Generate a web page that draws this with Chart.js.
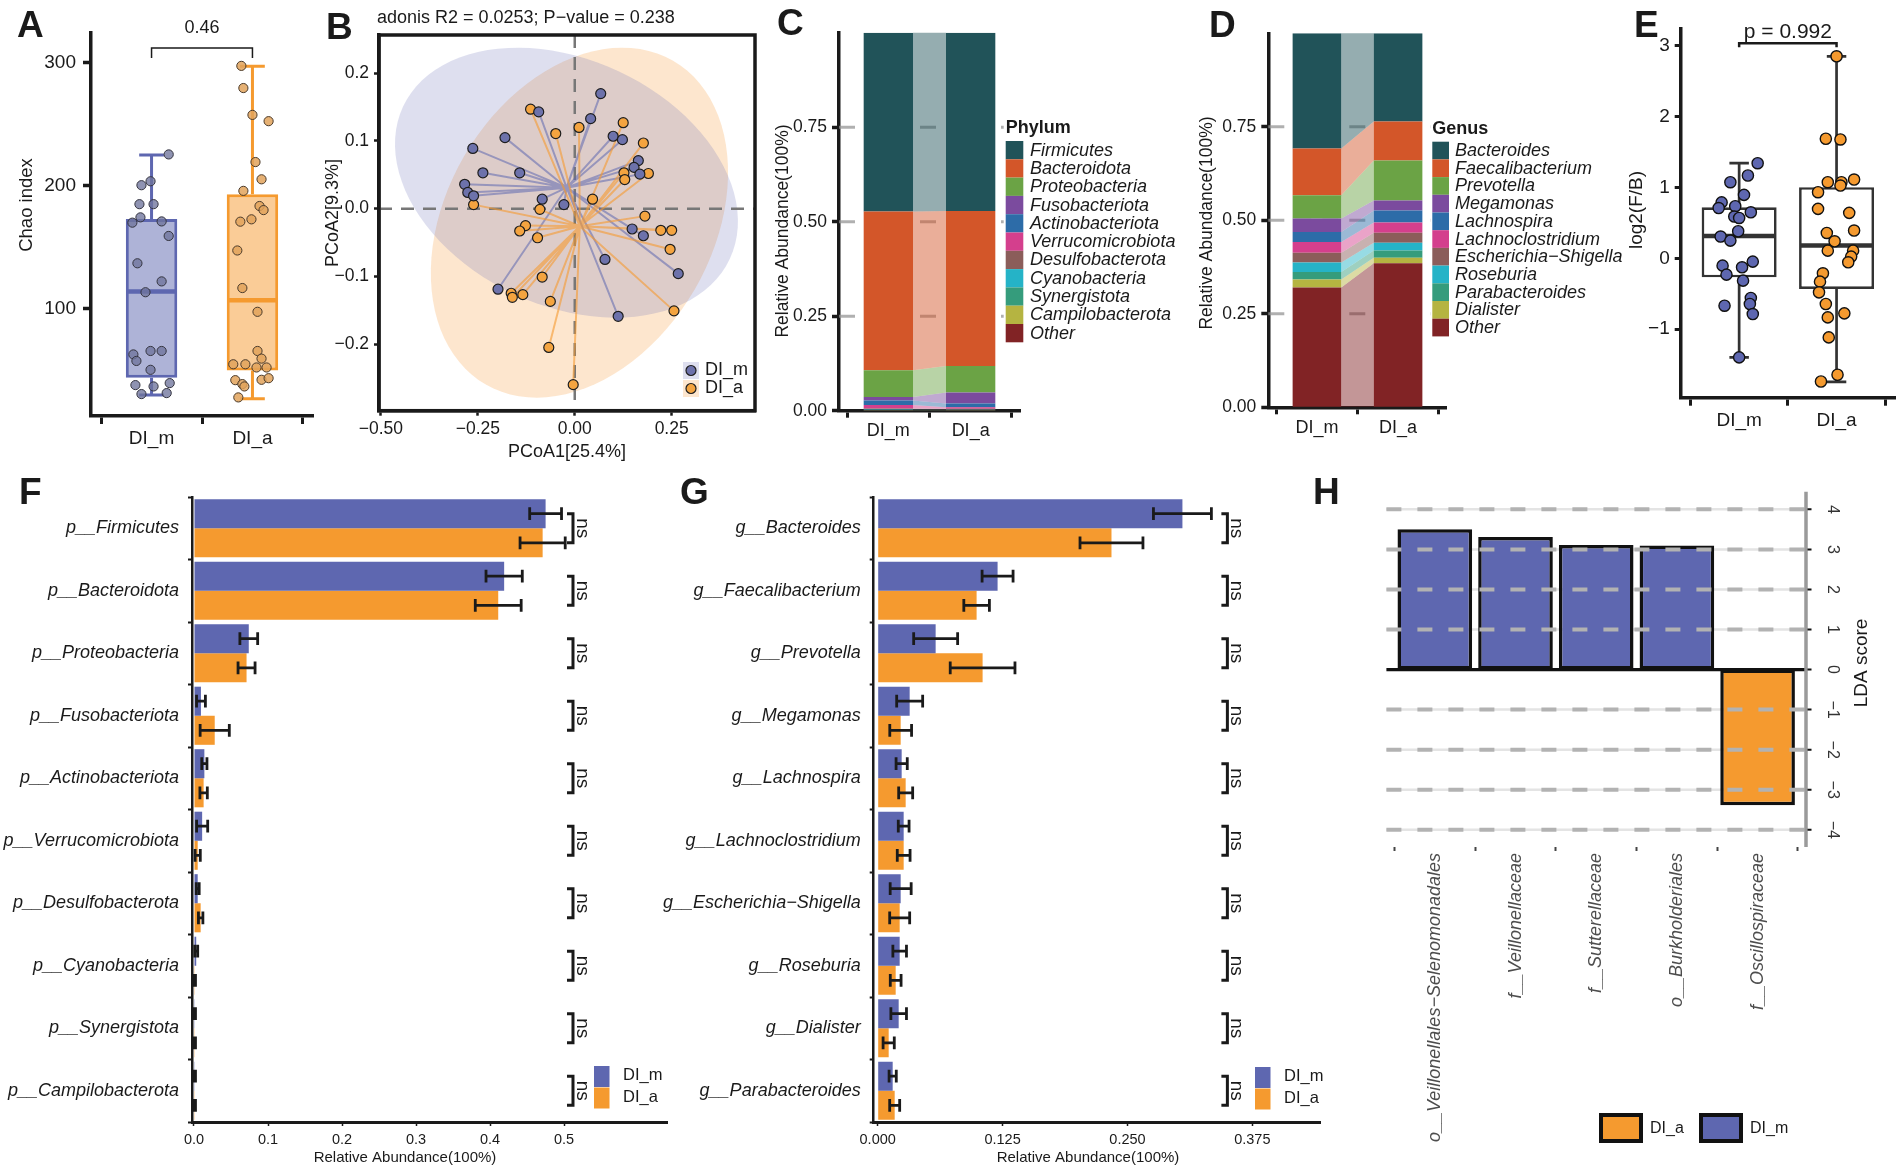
<!DOCTYPE html>
<html>
<head>
<meta charset="utf-8">
<title>Gut microbiota DI_m vs DI_a</title>
<script src="https://cdn.jsdelivr.net/npm/chart.js@4.4.1/dist/chart.umd.min.js"></script>
<style>
  html, body { margin: 0; padding: 0; background: #fff; overflow: hidden; }
  #fig { position: relative; width: 1902px; height: 1173px; overflow: hidden; background: #fff; }
  .panel { position: absolute; }
  .tag { position: absolute; font: bold 37px "Liberation Sans", Arial, sans-serif; line-height: 37px; color: #1a1a1a; }
</style>
</head>
<body>
<div id="fig">
  <div class="panel" style="left:0px;top:0px;width:330px;height:452px"><canvas id="chA"></canvas></div>
  <div class="panel" style="left:320px;top:0px;width:450px;height:470px"><canvas id="chB"></canvas></div>
  <div class="panel" style="left:740px;top:0px;width:450px;height:452px"><canvas id="chC"></canvas></div>
  <div class="panel" style="left:1190px;top:0px;width:440px;height:452px"><canvas id="chD"></canvas></div>
  <div class="panel" style="left:1615px;top:0px;width:287px;height:452px"><canvas id="chE"></canvas></div>
  <div class="panel" style="left:0px;top:470px;width:680px;height:703px"><canvas id="chF"></canvas></div>
  <div class="panel" style="left:650px;top:470px;width:690px;height:703px"><canvas id="chG"></canvas></div>
  <div class="panel" style="left:1300px;top:440px;width:602px;height:733px"><canvas id="chH"></canvas></div>
  <div class="tag" style="left:17px;top:6px">A</div>
  <div class="tag" style="left:326px;top:8px">B</div>
  <div class="tag" style="left:777px;top:4px">C</div>
  <div class="tag" style="left:1209px;top:6px">D</div>
  <div class="tag" style="left:1634px;top:6px">E</div>
  <div class="tag" style="left:19px;top:473px">F</div>
  <div class="tag" style="left:680px;top:473px">G</div>
  <div class="tag" style="left:1313px;top:473px">H</div>
</div>
<script>
// ---------------- data ----------------
const groups = ['DI_m', 'DI_a'];

// A: Chao index boxplots
const chaoLo  = [30, 27];
const chaoQ1  = [44, 50];
const chaoMed = [114, 107];
const chaoQ3  = [173, 193];
const chaoHi  = [225, 297];
const chaoTicks = [100, 200, 300];
const chaoP = '0.46';
const chaoM = [225.4, 200.4, 203.6, 185, 185, 174.3, 170, 171, 159.2, 137, 122.3, 113.5, 63, 57.7, 65.8, 65.8, 50.5, 38.1, 37, 39.7, 30.8, 31.6];
const chaoMJit = [0.17, -0.10, -0.01, -0.12, 0.02, -0.11, -0.19, 0.10, 0.17, -0.14, 0.10, -0.06, -0.18, -0.15, -0.01, 0.10, -0.01, -0.16, 0.02, 0.18, -0.10, 0.15];
const chaoA = [297.3, 279.3, 257.5, 252.4, 219.2, 205.2, 195.8, 183.5, 180.2, 170.8, 172.7, 147.4, 116.9, 97.6, 65.8, 59.6, 55, 55, 52.4, 52.4, 42.1, 38.9, 37, 42.4, 43.7, 28.1];
const chaoAJit = [-0.11, -0.09, 0, 0.16, 0.03, 0.09, -0.09, 0.07, 0.11, -0.12, -0.01, -0.15, -0.10, 0.05, 0.05, 0.09, -0.19, -0.07, 0.04, 0.14, -0.17, -0.10, -0.08, 0.09, 0.16, -0.14];

// B: PCoA
const pcoaTitle = 'adonis R2 = 0.0253; P\u2212value = 0.238';
const pcoaMx = [0.067, -0.093, 0.041, -0.180, -0.263, 0.099, 0.123, -0.237, -0.142, -0.284, -0.276, -0.261, 0.164, 0.153, 0.168, -0.084, -0.028, 0.148, 0.177, 0.078, 0.267, -0.198, 0.112];
const pcoaMy = [0.170, 0.143, 0.133, 0.105, 0.089, 0.107, 0.102, 0.053, 0.053, 0.036, 0.024, 0.019, 0.071, 0.061, 0.051, 0.014, 0.006, -0.030, -0.040, -0.075, -0.096, -0.119, -0.159];
const pcoaAx = [-0.114, 0.011, -0.049, 0.125, 0.177, 0.127, 0.129, 0.190, -0.261, -0.090, 0.046, 0.181, -0.127, -0.142, -0.096, 0.222, 0.250, 0.246, -0.084, -0.164, -0.161, -0.134, -0.063, 0.256, -0.067, -0.004];
const pcoaAy = [0.147, 0.120, 0.111, 0.127, 0.097, 0.053, 0.043, 0.052, 0.006, -0.001, 0.014, -0.011, -0.025, -0.033, -0.043, -0.032, -0.032, -0.060, -0.101, -0.125, -0.131, -0.127, -0.137, -0.151, -0.205, -0.260];
const pcoaCentM = [-0.021, 0.031];
const pcoaCentA = [0.013, -0.026];
// ellipse = centre + u*cos(t) + v*sin(t), in axis units
const pcoaEllM = [-0.0214, 0.0384, 0.4215, -0.1124, -0.1343, -0.1647];
const pcoaEllA = [0.0121, -0.0207, 0.2416, 0.2392, 0.2977, -0.0982];
const pcoaXTicks = [-0.5, -0.25, 0, 0.25];
const pcoaYTicks = [-0.2, -0.1, 0, 0.1, 0.2];

// C: phylum composition
const phyla = ['Firmicutes', 'Bacteroidota', 'Proteobacteria', 'Fusobacteriota', 'Actinobacteriota', 'Verrucomicrobiota', 'Desulfobacterota', 'Cyanobacteria', 'Synergistota', 'Campilobacterota', 'Other'];
const phylumM = [0.473, 0.420, 0.071, 0.009, 0.012, 0.009, 0.003, 0.0015, 0.0005, 0.0005, 0.0005];
const phylumA = [0.472, 0.410, 0.070, 0.029, 0.010, 0.004, 0.0025, 0.001, 0.0005, 0.0005, 0.0005];

// D: genus composition
const genera = ['Bacteroides', 'Faecalibacterium', 'Prevotella', 'Megamonas', 'Lachnospira', 'Lachnoclostridium', 'Escherichia\u2212Shigella', 'Roseburia', 'Parabacteroides', 'Dialister', 'Other'];
const genusM = [0.308, 0.125, 0.062, 0.036, 0.027, 0.029, 0.026, 0.025, 0.020, 0.022, 0.320];
const genusA = [0.236, 0.104, 0.107, 0.027, 0.032, 0.027, 0.027, 0.021, 0.019, 0.015, 0.385];
const relTicks = [0, 0.25, 0.5, 0.75];

// E: log2(F/B)
const fbLo  = [-1.40, -1.745];
const fbQ1  = [-0.269, -0.434];
const fbMed = [0.316, 0.179];
const fbQ3  = [0.722, 1.005];
const fbHi  = [1.344, 2.854];
const fbTicks = [-1, 0, 1, 2, 3];
const fbP = 'p = 0.992';
const fbM = [1.344, 1.17, 1.075, 0.896, 0.79, 0.71, 0.736, 0.65, 0.59, 0.57, 0.382, 0.307, 0.25, -0.047, -0.104, -0.127, -0.231, -0.316, -0.561, -0.646, -0.67, -0.788, -1.40];
const fbMJit = [0.19, 0.09, -0.09, 0.05, -0.18, -0.21, -0.04, 0.12, -0.05, 0, -0.01, -0.19, -0.09, 0.14, -0.17, 0.03, -0.13, 0.04, 0.12, 0.11, -0.15, 0.14, 0];
const fbA = [2.854, 1.689, 1.679, 1.075, 1.075, 1.113, 1.028, 0.934, 0.698, 0.642, 0.358, 0.392, 0.24, 0.108, 0.108, 0.024, -0.057, -0.212, -0.33, -0.481, -0.646, -0.835, -0.778, -1.118, -1.646, -1.741];
const fbAJit = [0, -0.11, 0.04, -0.09, 0.05, 0.18, 0.04, -0.19, -0.19, 0.13, -0.10, 0.18, -0.02, -0.09, 0.17, 0.15, 0.12, -0.14, -0.17, -0.18, -0.11, -0.09, 0.08, -0.08, 0.01, -0.16];

// F: phylum mean abundance +- se
const fTaxa = ['p__Firmicutes', 'p__Bacteroidota', 'p__Proteobacteria', 'p__Fusobacteriota', 'p__Actinobacteriota', 'p__Verrucomicrobiota', 'p__Desulfobacterota', 'p__Cyanobacteria', 'p__Synergistota', 'p__Campilobacterota'];
const fMeanM = [0.475, 0.419, 0.074, 0.0094, 0.014, 0.011, 0.005, 0.003, 0.001, 0.001];
const fErrM  = [0.0215, 0.0245, 0.012, 0.006, 0.0035, 0.0075, 0.002, 0.002, 0.001, 0.001];
const fMeanA = [0.471, 0.411, 0.071, 0.028, 0.013, 0.005, 0.009, 0.001, 0.001, 0.001];
const fErrA  = [0.0305, 0.031, 0.0115, 0.0197, 0.005, 0.0035, 0.003, 0.001, 0.001, 0.001];
const fTicks = [0, 0.1, 0.2, 0.3, 0.4, 0.5];

// G: genus mean abundance +- se
const gTaxa = ['g__Bacteroides', 'g__Faecalibacterium', 'g__Prevotella', 'g__Megamonas', 'g__Lachnospira', 'g__Lachnoclostridium', 'g__Escherichia\u2212Shigella', 'g__Roseburia', 'g__Dialister', 'g__Parabacteroides'];
const gMeanM = [0.305, 0.120, 0.058, 0.032, 0.024, 0.026, 0.023, 0.022, 0.021, 0.015];
const gErrM  = [0.029, 0.0155, 0.022, 0.013, 0.0056, 0.0054, 0.0105, 0.0068, 0.0078, 0.0036];
const gMeanA = [0.234, 0.099, 0.105, 0.023, 0.028, 0.026, 0.022, 0.018, 0.011, 0.017];
const gErrA  = [0.0315, 0.0128, 0.0324, 0.0109, 0.007, 0.0064, 0.010, 0.0054, 0.0056, 0.005];
const gTicks = [0, 0.125, 0.25, 0.375];

// H: LEfSe LDA scores
const ldaTaxa = ['o__Veillonellales\u2212Selenomonadales', 'f__Veillonellaceae', 'f__Sutterellaceae', 'o__Burkholderiales', 'f__Oscillospiraceae'];
const ldaScore = [3.50, 3.31, 3.11, 3.10, -3.39];
const ldaGroup = ['DI_m', 'DI_m', 'DI_m', 'DI_m', 'DI_a'];
const ldaTicks = [-4, -3, -2, -1, 0, 1, 2, 3, 4];

// ---------------- style ----------------
const FONT = '"Liberation Sans", Arial, Helvetica, sans-serif';
const INK = '#1a1a1a';
const BLUE = '#5E67B0';
const ORANGE = '#F59A2F';
const taxaColors = ['#215359', '#D35629', '#6BA345', '#7B4B9E', '#2D6CA8', '#D43F8D', '#8B5D5A', '#25B3C7', '#359C7C', '#B5B441', '#812325'];

Chart.defaults.font.family = FONT;
Chart.defaults.color = INK;
Chart.defaults.animation = false;
Chart.defaults.responsive = true;
Chart.defaults.maintainAspectRatio = false;
Chart.defaults.events = [];
Chart.defaults.plugins.legend.display = false;
Chart.defaults.plugins.tooltip.enabled = false;

// ---------------- helpers ----------------
const at = vals => s => { s.ticks = vals.map(v => ({ value: v })); };
const fix = (w, h) => s => {
  if (w != null) s.width = w;
  if (h != null) s.height = h;
  s.paddingLeft = s.paddingRight = s.paddingTop = s.paddingBottom = 0;
};
const minus = s => String(s).replace(/-/g, '\u2212');
const tickGrid = (len, w) => ({ display: true, drawOnChartArea: false, drawTicks: true, tickLength: len, tickWidth: w, tickColor: INK });
function rgba(hex, a) {
  const n = parseInt(hex.slice(1), 16);
  return `rgba(${n >> 16},${(n >> 8) & 255},${n & 255},${a})`;
}
// page coordinates -> canvas coordinates
function pg(chart, px, py) {
  const b = chart.canvas.parentNode;
  return [px - b.offsetLeft, py - b.offsetTop];
}
function put(chart, s, px, py, o = {}) {
  const ctx = chart.ctx;
  const [x, y] = pg(chart, px, py);
  ctx.save();
  ctx.translate(x, y);
  if (o.rot) ctx.rotate(o.rot * Math.PI / 180);
  ctx.font = `${o.style || 'normal'} ${o.weight || 'normal'} ${o.size || 18}px ${FONT}`;
  ctx.fillStyle = o.color || INK;
  ctx.textAlign = o.align || 'center';
  ctx.textBaseline = 'middle';
  ctx.fillText(s, 0, 0);
  ctx.restore();
}
function rectAt(chart, px, py, w, h, fill, stroke, lw) {
  const ctx = chart.ctx;
  const [x, y] = pg(chart, px, py);
  ctx.save();
  ctx.fillStyle = fill;
  ctx.fillRect(x, y, w, h);
  if (stroke) { ctx.strokeStyle = stroke; ctx.lineWidth = lw; ctx.strokeRect(x, y, w, h); }
  ctx.restore();
}

// whiskers + median for a floating-bar box (dataset 0)
function whiskers(lo, med, hi, q1, q3, colors, o) {
  return {
    id: 'whiskers',
    afterDatasetDraw(chart, args) {
      if (args.index !== 0) return;
      const { ctx, scales: { x, y } } = chart;
      const bars = chart.getDatasetMeta(0).data;
      ctx.save();
      lo.forEach((l, i) => {
        const cx = x.getPixelForValue(i + 1);
        const cap = x.getPixelForValue(1 + o.cap / 2) - x.getPixelForValue(1);
        const half = bars[i].width / 2 - o.lw / 2;
        ctx.strokeStyle = colors[i];
        ctx.lineWidth = o.lw;
        ctx.beginPath();
        ctx.moveTo(cx, y.getPixelForValue(hi[i])); ctx.lineTo(cx, y.getPixelForValue(q3[i]));
        ctx.moveTo(cx, y.getPixelForValue(q1[i])); ctx.lineTo(cx, y.getPixelForValue(l));
        ctx.moveTo(cx - cap, y.getPixelForValue(hi[i])); ctx.lineTo(cx + cap, y.getPixelForValue(hi[i]));
        ctx.moveTo(cx - cap, y.getPixelForValue(l)); ctx.lineTo(cx + cap, y.getPixelForValue(l));
        ctx.stroke();
        ctx.lineWidth = o.medLw;
        ctx.beginPath();
        ctx.moveTo(cx - half, y.getPixelForValue(med[i])); ctx.lineTo(cx + half, y.getPixelForValue(med[i]));
        ctx.stroke();
      });
      ctx.restore();
    }
  };
}
// significance bracket between the two groups
function bracket(chart, yTop, drop, lw, text, textY, size) {
  const { ctx, scales: { x } } = chart;
  const x1 = x.getPixelForValue(1), x2 = x.getPixelForValue(2);
  const [, yb] = pg(chart, 0, yTop);
  ctx.save();
  ctx.strokeStyle = INK; ctx.lineWidth = lw;
  ctx.beginPath();
  ctx.moveTo(x1, yb + drop); ctx.lineTo(x1, yb); ctx.lineTo(x2, yb); ctx.lineTo(x2, yb + drop);
  ctx.stroke();
  ctx.restore();
  const b = chart.canvas.parentNode;
  put(chart, text, (x1 + x2) / 2 + b.offsetLeft, textY, { size });
}

// ---------------- A ----------------
new Chart(document.getElementById('chA'), {
  type: 'bar',
  data: {
    datasets: [
      { data: groups.map((g, i) => ({ x: i + 1, y: [chaoQ1[i], chaoQ3[i]] })),
        backgroundColor: [rgba(BLUE, 0.5), rgba(ORANGE, 0.5)], borderColor: [BLUE, ORANGE],
        borderWidth: 3, borderSkipped: false, barPercentage: 0.51, categoryPercentage: 1, grouped: false, order: 3 },
      { type: 'scatter', data: chaoM.map((v, i) => ({ x: 1 + chaoMJit[i], y: v })),
        pointRadius: 4.6, backgroundColor: 'rgba(112,116,156,0.78)', borderColor: '#34343f', borderWidth: 1, order: 1 },
      { type: 'scatter', data: chaoA.map((v, i) => ({ x: 2 + chaoAJit[i], y: v })),
        pointRadius: 4.6, backgroundColor: 'rgba(226,163,92,0.85)', borderColor: '#4a3a2a', borderWidth: 1, order: 1 }
    ]
  },
  options: {
    layout: { padding: { left: 0, top: 33, right: 17, bottom: 0 } },
    scales: {
      x: { type: 'linear', min: 0.4, max: 2.6, offset: false, afterBuildTicks: at([1, 2]), afterFit: fix(null, 36),
           ticks: { callback: v => groups[v - 1], font: { size: 19 }, color: INK, padding: 3 },
           grid: tickGrid(8, 3), border: { color: INK, width: 3.5 } },
      y: { min: 13, max: 324, afterBuildTicks: at(chaoTicks), afterFit: fix(91, null),
           ticks: { font: { size: 19 }, color: INK, padding: 7 },
           grid: tickGrid(8, 3.5), border: { color: INK, width: 3.5 } }
    }
  },
  plugins: [
    whiskers(chaoLo, chaoMed, chaoHi, chaoQ1, chaoQ3, [BLUE, ORANGE], { cap: 0.245, lw: 3, medLw: 4.5 }),
    { id: 'annA', afterDraw(chart) {
        bracket(chart, 48, 10, 1.5, chaoP, 28, 18);
        put(chart, 'Chao index', 27, 205, { rot: -90, size: 18.5 });
    } }
  ]
});

// ---------------- B ----------------
new Chart(document.getElementById('chB'), {
  type: 'scatter',
  data: {
    datasets: [
      { data: pcoaMx.map((v, i) => ({ x: v, y: pcoaMy[i] })), pointRadius: 5, backgroundColor: '#6D72AB', borderColor: '#1e1e1e', borderWidth: 1.2 },
      { data: pcoaAx.map((v, i) => ({ x: v, y: pcoaAy[i] })), pointRadius: 5, backgroundColor: '#F4A440', borderColor: '#1e1e1e', borderWidth: 1.2 }
    ]
  },
  options: {
    layout: { padding: { left: 0, top: 35, right: 15, bottom: 0 } },
    scales: {
      x: { type: 'linear', min: -0.505, max: 0.465, afterBuildTicks: at(pcoaXTicks), afterFit: fix(null, 59.3),
           ticks: { callback: v => minus(v.toFixed(2)), font: { size: 17.5 }, color: INK, padding: 3 },
           grid: tickGrid(5, 2.5), border: { color: INK, width: 3.5 } },
      y: { min: -0.2985, max: 0.2566, afterBuildTicks: at(pcoaYTicks), afterFit: fix(59, null),
           ticks: { callback: v => minus(v.toFixed(1)), font: { size: 17.5 }, color: INK, padding: 5 },
           grid: tickGrid(5, 2.5), border: { color: INK, width: 3.5 } }
    }
  },
  plugins: [{
    id: 'pcoa',
    beforeDatasetsDraw(chart) {
      const { ctx, chartArea: a, scales: { x, y } } = chart;
      ctx.save();
      ctx.beginPath(); ctx.rect(a.left, a.top, a.width, a.height); ctx.clip();
      [[pcoaEllA, rgba('#F6A24A', 0.27)], [pcoaEllM, rgba('#6A6FB5', 0.22)]].forEach(([e, fill]) => {
        ctx.beginPath();
        for (let k = 0; k <= 96; k++) {
          const t = k / 96 * 2 * Math.PI;
          const px = x.getPixelForValue(e[0] + e[2] * Math.cos(t) + e[4] * Math.sin(t));
          const py = y.getPixelForValue(e[1] + e[3] * Math.cos(t) + e[5] * Math.sin(t));
          if (k) ctx.lineTo(px, py); else ctx.moveTo(px, py);
        }
        ctx.closePath();
        ctx.fillStyle = fill;
        ctx.fill();
      });
      ctx.strokeStyle = '#777'; ctx.lineWidth = 2.5; ctx.setLineDash([13, 9]);
      ctx.beginPath();
      ctx.moveTo(a.left, y.getPixelForValue(0)); ctx.lineTo(a.right, y.getPixelForValue(0));
      ctx.moveTo(x.getPixelForValue(0), a.top); ctx.lineTo(x.getPixelForValue(0), a.bottom);
      ctx.stroke();
      ctx.setLineDash([]);
      ctx.lineWidth = 2;
      [[pcoaMx, pcoaMy, pcoaCentM, rgba(BLUE, 0.55)], [pcoaAx, pcoaAy, pcoaCentA, rgba(ORANGE, 0.6)]].forEach(([xs, ys, c, col]) => {
        ctx.strokeStyle = col;
        ctx.beginPath();
        xs.forEach((v, i) => {
          ctx.moveTo(x.getPixelForValue(c[0]), y.getPixelForValue(c[1]));
          ctx.lineTo(x.getPixelForValue(v), y.getPixelForValue(ys[i]));
        });
        ctx.stroke();
      });
      ctx.restore();
    },
    afterDraw(chart) {
      const { ctx, chartArea: a } = chart;
      ctx.save();
      ctx.strokeStyle = INK; ctx.lineWidth = 3.5;
      ctx.strokeRect(a.left, a.top, a.width, a.height);
      ctx.restore();
      put(chart, pcoaTitle, 377, 18, { size: 18, align: 'left' });
      put(chart, 'PCoA2[9.3%]', 333, 213, { rot: -90, size: 18 });
      put(chart, 'PCoA1[25.4%]', 567, 452, { size: 18 });
      // legend
      rectAt(chart, 683, 362, 16, 17, rgba('#6A6FB5', 0.22));
      rectAt(chart, 683, 380, 16, 17, rgba('#F6A24A', 0.27));
      [['#6D72AB', 370.5, groups[0]], ['#F4A440', 388.5, groups[1]]].forEach(([c, yy, g]) => {
        const [cx, cy] = pg(chart, 691, yy);
        ctx.save();
        ctx.beginPath(); ctx.arc(cx, cy, 5, 0, 2 * Math.PI);
        ctx.fillStyle = c; ctx.fill(); ctx.lineWidth = 1.2; ctx.strokeStyle = '#1e1e1e'; ctx.stroke();
        ctx.restore();
        put(chart, g, 705, yy, { size: 18, align: 'left' });
      });
    }
  }]
});

// ---------------- C / D ----------------
function composition(id, names, valsM, valsA, o) {
  return new Chart(document.getElementById(id), {
    type: 'bar',
    data: {
      datasets: names.map((n, k) => ({
        label: n, data: [{ x: 1, y: valsM[k] }, { x: 2, y: valsA[k] }],
        backgroundColor: taxaColors[k], borderWidth: 0, barPercentage: 0.6, categoryPercentage: 1
      })).reverse()
    },
    options: {
      layout: { padding: { left: 0, top: o.top, right: o.right, bottom: 0 } },
      scales: {
        x: { type: 'linear', stacked: true, min: 0.4, max: 2.6, offset: false, afterBuildTicks: at([1, 2]), afterFit: fix(null, o.xh),
             ticks: { callback: v => groups[v - 1], font: { size: 18 }, color: INK, padding: 3 },
             grid: tickGrid(7, 3), border: { color: INK, width: 3.5 } },
        y: { stacked: true, min: 0, max: 1, afterBuildTicks: at(relTicks), afterFit: fix(o.yw, null),
             ticks: { callback: v => v.toFixed(2), font: { size: 17.5 }, color: INK, padding: 5 },
             grid: tickGrid(7, 3.5), border: { color: INK, width: 3.5 } }
      }
    },
    plugins: [{
      id: 'flow',
      beforeDatasetsDraw(chart) {
        const { ctx, chartArea: a, scales: { y } } = chart;
        ctx.save();
        ctx.strokeStyle = 'rgba(150,150,150,0.75)'; ctx.lineWidth = 3; ctx.setLineDash([16, 11]);
        ctx.beginPath();
        relTicks.filter(v => v > 0).forEach(v => { ctx.moveTo(a.left, y.getPixelForValue(v)); ctx.lineTo(a.right, y.getPixelForValue(v)); });
        ctx.stroke();
        ctx.setLineDash([]);
        chart.data.datasets.forEach((ds, d) => {
          const [b1, b2] = chart.getDatasetMeta(d).data.map(el => el.getProps(['x', 'y', 'base', 'width'], true));
          ctx.beginPath();
          ctx.moveTo(b1.x + b1.width / 2, b1.y);
          ctx.lineTo(b2.x - b2.width / 2, b2.y);
          ctx.lineTo(b2.x - b2.width / 2, b2.base);
          ctx.lineTo(b1.x + b1.width / 2, b1.base);
          ctx.closePath();
          ctx.fillStyle = rgba(ds.backgroundColor, 0.48);
          ctx.fill();
        });
        ctx.restore();
      },
      afterDraw(chart) {
        const L = o.legend;
        rectAt(chart, L.x - 2, L.top - 24, 190, names.length * L.step + 30, '#fff');
        put(chart, o.title, L.x, L.top - 12.5, { size: 18, weight: 'bold', align: 'left' });
        names.forEach((n, k) => {
          rectAt(chart, L.x, L.top + k * L.step, L.w, L.step, taxaColors[k]);
          put(chart, n, L.tx, L.top + k * L.step + L.step / 2 + 0.5, { size: 18, style: 'italic', align: 'left' });
        });
        put(chart, 'Relative Abundance(100%)', o.ytx, o.yty, { rot: -90, size: 17.5 });
      }
    }]
  });
}
composition('chC', phyla, phylumM, phylumA, {
  top: 32.7, right: 170, xh: 41.3, yw: 99, title: 'Phylum', ytx: 783, yty: 231,
  legend: { x: 1005.7, top: 141, step: 18.3, w: 17.6, tx: 1030 }
});
composition('chD', genera, genusM, genusA, {
  top: 33.3, right: 183.3, xh: 44.7, yw: 78.3, title: 'Genus', ytx: 1206.7, yty: 223,
  legend: { x: 1432.3, top: 141.7, step: 17.7, w: 16.7, tx: 1455 }
});

// ---------------- E ----------------
new Chart(document.getElementById('chE'), {
  type: 'bar',
  data: {
    datasets: [
      { data: groups.map((g, i) => ({ x: i + 1, y: [fbQ1[i], fbQ3[i]] })),
        backgroundColor: '#fff', borderColor: '#333', borderWidth: 2.7, borderSkipped: false,
        barPercentage: 0.77, categoryPercentage: 1, grouped: false, order: 3 },
      { type: 'scatter', data: fbM.map((v, i) => ({ x: 1 + fbMJit[i], y: v })),
        pointRadius: 5.6, backgroundColor: BLUE, borderColor: '#111', borderWidth: 1.4, order: 1 },
      { type: 'scatter', data: fbA.map((v, i) => ({ x: 2 + fbAJit[i], y: v })),
        pointRadius: 5.6, backgroundColor: ORANGE, borderColor: '#111', borderWidth: 1.4, order: 1 }
    ]
  },
  options: {
    layout: { padding: { left: 0, top: 28.3, right: 7, bottom: 0 } },
    scales: {
      x: { type: 'linear', min: 0.4, max: 2.6, offset: false, afterBuildTicks: at([1, 2]), afterFit: fix(null, 54.3),
           ticks: { callback: v => groups[v - 1], font: { size: 19 }, color: INK, padding: 4 },
           grid: tickGrid(8, 3), border: { color: INK, width: 3.5 } },
      y: { min: -1.97, max: 3.25, afterBuildTicks: at(fbTicks), afterFit: fix(65.7, null),
           ticks: { callback: v => minus(v), font: { size: 19 }, color: INK, padding: 5 },
           grid: tickGrid(6, 3), border: { color: INK, width: 3.5 } }
    }
  },
  plugins: [
    whiskers(fbLo, fbMed, fbHi, fbQ1, fbQ3, ['#333', '#333'], { cap: 0.2, lw: 2.7, medLw: 4.5 }),
    { id: 'annE', afterDraw(chart) {
        bracket(chart, 43.3, 4, 2.5, fbP, 32, 21);
        put(chart, 'log2(F/B)', 1637, 210, { rot: -90, size: 19 });
    } }
  ]
});

// ---------------- F / G ----------------
function abundance(id, taxa, meanM, errM, meanA, errA, o) {
  return new Chart(document.getElementById(id), {
    type: 'bar',
    data: {
      labels: taxa,
      datasets: [
        { label: groups[0], data: meanM, backgroundColor: BLUE, categoryPercentage: 0.93, barPercentage: 1 },
        { label: groups[1], data: meanA, backgroundColor: ORANGE, categoryPercentage: 0.93, barPercentage: 1 }
      ]
    },
    options: {
      indexAxis: 'y',
      layout: { padding: { left: 0, top: 27, right: o.right, bottom: 0 } },
      scales: {
        y: { afterFit: fix(o.yw, null),
             ticks: { font: { size: 18, style: 'italic' }, color: INK, padding: 9, autoSkip: false },
             grid: tickGrid(4, 2), border: { color: INK, width: 2.5 } },
        x: { type: 'linear', min: o.min, max: o.max, afterBuildTicks: at(o.ticks), afterFit: fix(null, 51),
             ticks: { callback: o.fmt, font: { size: 14.5 }, color: INK, padding: 5 },
             grid: tickGrid(4, 1.5), border: { color: INK, width: 3 } }
      }
    },
    plugins: [{
      id: 'err',
      afterDatasetsDraw(chart) {
        const { ctx, scales: { x } } = chart;
        ctx.save();
        ctx.strokeStyle = INK; ctx.lineWidth = 2.8;
        ctx.beginPath();
        [errM, errA].forEach((errs, d) => {
          const means = chart.data.datasets[d].data;
          chart.getDatasetMeta(d).data.forEach((bar, i) => {
            const xl = x.getPixelForValue(means[i] - errs[i]);
            const xr = x.getPixelForValue(means[i] + errs[i]);
            const c = bar.height * 0.22;
            ctx.moveTo(xl, bar.y); ctx.lineTo(xr, bar.y);
            ctx.moveTo(xl, bar.y - c); ctx.lineTo(xl, bar.y + c);
            ctx.moveTo(xr, bar.y - c); ctx.lineTo(xr, bar.y + c);
          });
        });
        ctx.stroke();
        // ns brackets
        const xb = x.getPixelForValue(o.nsAt);
        const mM = chart.getDatasetMeta(0).data, mA = chart.getDatasetMeta(1).data;
        ctx.lineWidth = 3;
        ctx.beginPath();
        mM.forEach((bm, i) => {
          const y1 = bm.y, y2 = mA[i].y;
          ctx.moveTo(xb - 6, y1); ctx.lineTo(xb, y1); ctx.lineTo(xb, y2); ctx.lineTo(xb - 6, y2);
        });
        ctx.stroke();
        ctx.restore();
        const b = chart.canvas.parentNode;
        mM.forEach((bm, i) => {
          put(chart, 'ns', xb + 9 + b.offsetLeft, (bm.y + mA[i].y) / 2 + b.offsetTop, { rot: 90, size: 19 });
        });
      },
      afterDraw(chart) {
        const L = o.legend;
        rectAt(chart, L.x, L.y, 15.5, 21, BLUE);
        rectAt(chart, L.x, L.y + 21.5, 15.5, 21, ORANGE);
        put(chart, groups[0], L.x + 29, L.y + 9, { size: 16.5, align: 'left' });
        put(chart, groups[1], L.x + 29, L.y + 31, { size: 16.5, align: 'left' });
        put(chart, 'Relative Abundance(100%)', o.titleX, 1158, { size: 15 });
      }
    }]
  });
}
abundance('chF', fTaxa, fMeanM, fErrM, fMeanA, fErrA, {
  yw: 192, right: 13, min: -0.0027, max: 0.639, ticks: fTicks, fmt: v => v.toFixed(1),
  nsAt: 0.512, legend: { x: 594, y: 1066 }, titleX: 405
});
abundance('chG', gTaxa, gMeanM, gErrM, gMeanA, gErrA, {
  yw: 223.7, right: 20, min: -0.004, max: 0.4427, ticks: gTicks, fmt: v => v.toFixed(3),
  nsAt: 0.35, legend: { x: 1255, y: 1067 }, titleX: 1088
});

// ---------------- H ----------------
new Chart(document.getElementById('chH'), {
  type: 'bar',
  data: {
    datasets: [{
      data: ldaScore.map((v, i) => ({ x: i + 1, y: v })),
      backgroundColor: ldaGroup.map(g => g === groups[0] ? BLUE : ORANGE),
      borderColor: '#111', borderWidth: 3.5, borderSkipped: false,
      barPercentage: 0.925, categoryPercentage: 1
    }]
  },
  options: {
    layout: { padding: { left: 86.4, top: 51.7, right: 0, bottom: 0 } },
    scales: {
      x: { type: 'linear', min: 0.4, max: 5.6, offset: false, afterBuildTicks: at([1, 2, 3, 4, 5]), afterFit: fix(null, 326),
           ticks: { callback: v => ldaTaxa[v - 1], autoSkip: false, maxRotation: 90, minRotation: 90,
                    font: { size: 18, style: 'italic' }, color: '#4d4d4d', padding: 2 },
           grid: { display: true, drawOnChartArea: false, drawTicks: true, tickLength: 4, tickWidth: 2, tickColor: '#444' },
           border: { display: false } },
      y: { position: 'right', min: -4.43, max: 4.44, afterFit: fix(96, null),
           ticks: { display: false }, grid: { display: false }, border: { display: false } }
    }
  },
  plugins: [{
    id: 'lda',
    beforeDatasetsDraw(chart) {
      const { ctx, chartArea: a, scales: { y } } = chart;
      ctx.save();
      ctx.strokeStyle = '#e4e4e4'; ctx.lineWidth = 2.5;
      ctx.beginPath();
      ldaTicks.filter(v => v !== 0).forEach(v => { ctx.moveTo(a.left, y.getPixelForValue(v)); ctx.lineTo(a.right, y.getPixelForValue(v)); });
      ctx.stroke();
      ctx.restore();
    },
    afterDatasetsDraw(chart) {
      const { ctx, chartArea: a, scales: { y } } = chart;
      ctx.save();
      ctx.strokeStyle = '#b2b2b2'; ctx.lineWidth = 4; ctx.setLineDash([15, 16]);
      ctx.beginPath();
      ldaTicks.filter(v => v !== 0).forEach(v => { ctx.moveTo(a.left, y.getPixelForValue(v)); ctx.lineTo(a.right, y.getPixelForValue(v)); });
      ctx.stroke();
      ctx.setLineDash([]);
      ctx.strokeStyle = '#111'; ctx.lineWidth = 3.2;
      ctx.beginPath(); ctx.moveTo(a.left, y.getPixelForValue(0)); ctx.lineTo(a.right, y.getPixelForValue(0)); ctx.stroke();
      ctx.strokeStyle = '#9a9a9a'; ctx.lineWidth = 3.5;
      ctx.beginPath(); ctx.moveTo(a.right, a.top); ctx.lineTo(a.right, a.bottom); ctx.stroke();
      ctx.strokeStyle = '#111'; ctx.lineWidth = 2;
      ctx.beginPath();
      ldaTicks.forEach(v => { ctx.moveTo(a.right + 1.5, y.getPixelForValue(v)); ctx.lineTo(a.right + 5.5, y.getPixelForValue(v)); });
      ctx.stroke();
      ctx.restore();
      const b = chart.canvas.parentNode;
      ldaTicks.forEach(v => put(chart, minus(v), a.right + 26 + b.offsetLeft, y.getPixelForValue(v) + b.offsetTop, { rot: 90, size: 16, color: '#333' }));
    },
    afterDraw(chart) {
      put(chart, 'LDA score', 1862, 663, { rot: -90, size: 19 });
      rectAt(chart, 1601, 1115, 40, 26, ORANGE, '#111', 4);
      put(chart, groups[1], 1650, 1129, { size: 16, align: 'left' });
      rectAt(chart, 1701, 1115, 40, 26, BLUE, '#111', 4);
      put(chart, groups[0], 1750, 1129, { size: 16, align: 'left' });
    }
  }]
});
</script>
</body>
</html>
